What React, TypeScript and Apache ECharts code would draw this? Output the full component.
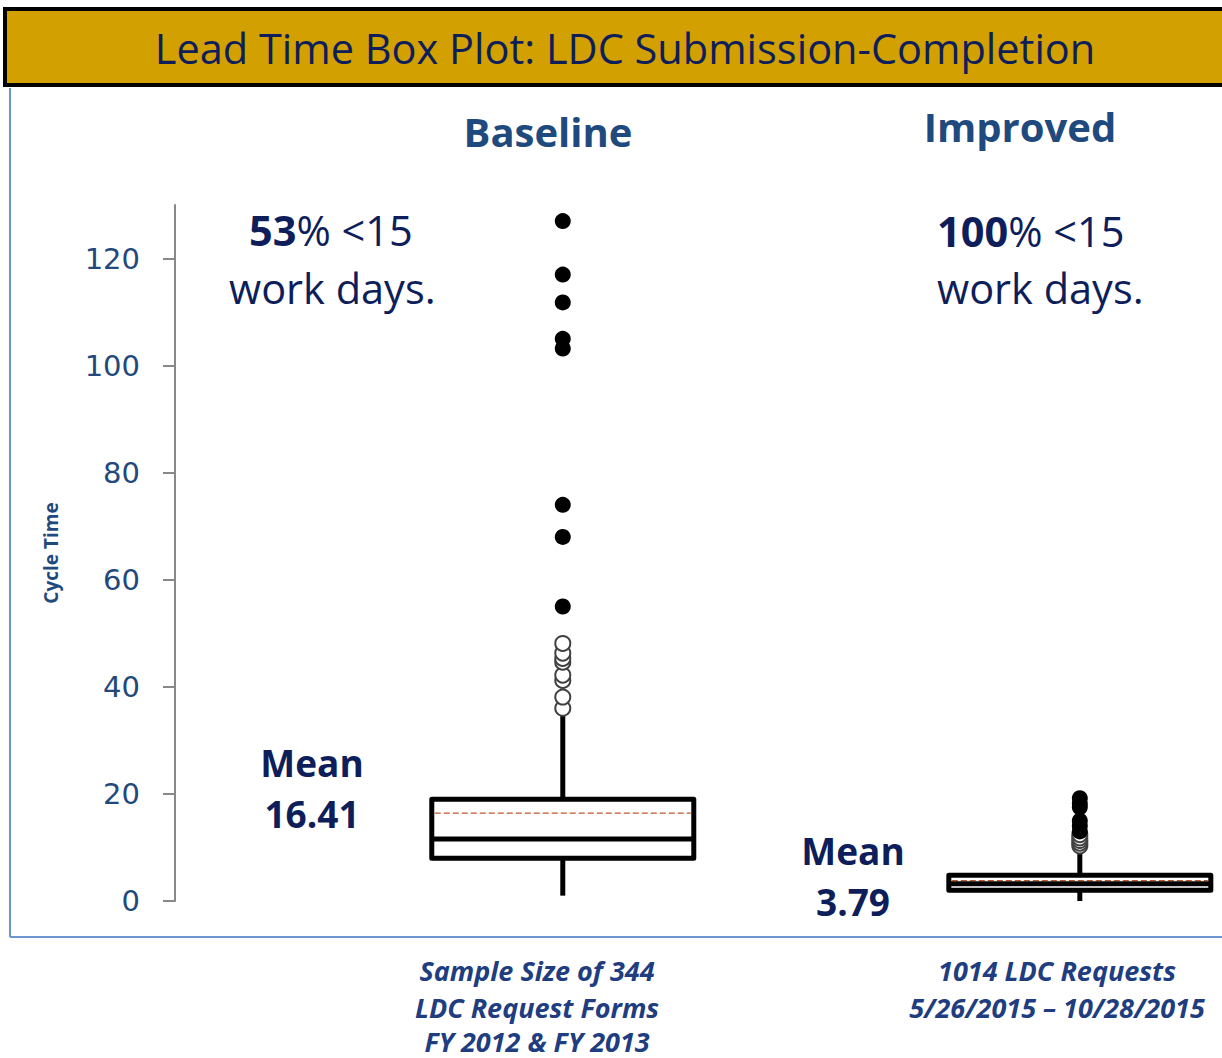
import React, { useEffect, useRef } from "react";
import * as echarts from "echarts";

// ---- data ----
const groupNames = ["Baseline", "Improved"];
const groupPositions = [1, 2];
const lowWhisker = [1, 0];
const q1Values = [8, 2];
const medianValues = [11.6, 3.2];
const q3Values = [19, 4.8];
const highWhisker = [35, 9];
const meanValues = [16.41, 3.79];
const baselineMild = [36, 38.1, 41.2, 42.2, 44.6, 45.3, 46.3, 48.1];
const baselineExtreme = [55, 68, 74, 103.2, 105, 111.8, 117, 127];
const improvedMild = [10.3, 10.8, 11.3, 11.8, 12.4];
const improvedExtreme = [13, 14, 15, 17.5, 18.2, 19.2];
const yTicks = [0, 20, 40, 60, 80, 100, 120];

const NAVY = "#0E1E5B";
const MIDBLUE = "#1F4A7E";
const FONT = "'Open Sans', 'Noto Sans', sans-serif";

export default function App() {
  const ref = useRef<HTMLDivElement>(null);
  useEffect(() => {
    if (!ref.current) return;
    const chart = echarts.init(ref.current, null, { renderer: "svg" });
    const boxData = groupPositions.map((x, i) => [
      x,
      lowWhisker[i],
      q1Values[i],
      medianValues[i],
      q3Values[i],
      highWhisker[i],
      meanValues[i],
    ]);
    const boxWidth = 262;
    const renderItem = (params: any, api: any) => {
      const x = api.value(0);
      const pLow = api.coord([x, api.value(1)]);
      const pQ1 = api.coord([x, api.value(2)]);
      const pMed = api.coord([x, api.value(3)]);
      const pQ3 = api.coord([x, api.value(4)]);
      const pHigh = api.coord([x, api.value(5)]);
      const pMean = api.coord([x, api.value(6)]);
      const cx = pMed[0];
      const l = cx - boxWidth / 2;
      const r = cx + boxWidth / 2;
      const stroke = { stroke: "#000", lineWidth: 5, lineCap: "butt" };
      return {
        type: "group",
        children: [
          { type: "line", shape: { x1: cx, y1: pLow[1], x2: cx, y2: pQ1[1] }, style: stroke },
          { type: "line", shape: { x1: cx, y1: pQ3[1], x2: cx, y2: pHigh[1] }, style: stroke },
          {
            type: "rect",
            shape: { x: l, y: pQ3[1], width: boxWidth, height: pQ1[1] - pQ3[1] },
            style: { fill: "#fff", stroke: "#000", lineWidth: 5, lineJoin: "round" },
          },
          {
            type: "line",
            shape: { x1: l + 3, y1: pMean[1], x2: r - 3, y2: pMean[1] },
            style: { stroke: "#C2562A", lineWidth: 1.2, lineDash: [6, 3] },
          },
          { type: "line", shape: { x1: l, y1: pMed[1], x2: r, y2: pMed[1] }, style: stroke },
        ],
      };
    };
    const mildData = [
      ...baselineMild.map((v) => [groupPositions[0], v]),
      ...improvedMild.map((v) => [groupPositions[1], v]),
    ];
    const extremeData = [
      ...baselineExtreme.map((v) => [groupPositions[0], v]),
      ...improvedExtreme.map((v) => [groupPositions[1], v]),
    ];
    const txt = (text: string, x: number, y: number, size: number, fill: string, extra: any = {}) => ({
      type: "text",
      x,
      y,
      style: {
        text,
        fill,
        fontSize: size,
        fontFamily: FONT,
        textAlign: "center",
        textVerticalAlign: "middle",
        ...extra,
      },
    });
    const noteStyle = { fontWeight: "bold", fontStyle: "italic" };
    chart.setOption({
      animation: false,
      backgroundColor: "#fff",
      grid: { left: 175, right: 0, top: 205, bottom: 1058 - 901 },
      xAxis: { type: "value", min: 0.25, max: 2.275, show: false },
      yAxis: {
        type: "value",
        min: 0,
        max: 130,
        interval: 10,
        name: "Cycle Time",
        nameLocation: "middle",
        nameGap: 115,
        nameTextStyle: { fontFamily: FONT, fontWeight: "bold", fontSize: 19, color: MIDBLUE },
        axisLine: { show: true, lineStyle: { color: "#888", width: 2 } },
        axisTick: { show: true, length: 12, customValues: yTicks, lineStyle: { color: "#888", width: 2 } },
        axisLabel: {
          customValues: yTicks,
          margin: 35,
          fontFamily: "'DejaVu Sans', sans-serif",
          fontSize: 29,
          color: "#23497C",
        },
        splitLine: { show: false },
      },
      graphic: [
        {
          type: "rect",
          shape: { x: 5, y: 9, width: 1240, height: 76 },
          style: { fill: "#D2A000", stroke: "#000", lineWidth: 4 },
        },
        txt("Lead Time Box Plot: LDC Submission-Completion", 625, 48, 41.5, NAVY),
        { type: "line", shape: { x1: 10, y1: 88, x2: 10, y2: 937 }, style: { stroke: "#6E95CF", lineWidth: 2 } },
        { type: "line", shape: { x1: 10, y1: 937, x2: 1222, y2: 937 }, style: { stroke: "#6E95CF", lineWidth: 2 } },
        txt(groupNames[0], 548, 131, 40, MIDBLUE, { fontWeight: "bold" }),
        txt(groupNames[1], 1020, 126, 40, MIDBLUE, { fontWeight: "bold" }),
        txt("{b|53}% <15", 249, 230, 41.5, NAVY, {
          textAlign: "left",
          rich: { b: { fontWeight: "bold", fontSize: 41.5, fontFamily: FONT, fill: NAVY } },
        }),
        txt("work days.", 229, 288, 41.5, NAVY, { textAlign: "left" }),
        txt("{b|100}% <15", 937, 231, 41.5, NAVY, {
          textAlign: "left",
          rich: { b: { fontWeight: "bold", fontSize: 41.5, fontFamily: FONT, fill: NAVY } },
        }),
        txt("work days.", 937, 288, 41.5, NAVY, { textAlign: "left" }),
        txt("Mean", 312, 762, 37, NAVY, { fontWeight: "bold" }),
        txt(meanValues[0].toFixed(2), 312, 813, 37, NAVY, { fontWeight: "bold" }),
        txt("Mean", 853, 850, 37, NAVY, { fontWeight: "bold" }),
        txt(meanValues[1].toFixed(2), 853, 901, 37, NAVY, { fontWeight: "bold" }),
        txt("Sample Size of 344", 537, 970, 27, "#203D80", noteStyle),
        txt("LDC Request Forms", 537, 1007, 27, "#203D80", noteStyle),
        txt("FY 2012 & FY 2013", 537, 1041, 27, "#203D80", noteStyle),
        txt("1014 LDC Requests", 1057, 970, 27, "#203D80", noteStyle),
        txt("5/26/2015 \u2013 10/28/2015", 1057, 1007, 27, "#203D80", noteStyle),
      ],
      series: [
        {
          type: "custom",
          renderItem,
          data: boxData,
          encode: { x: 0, y: [1, 2, 3, 4, 5] },
          z: 2,
        },
        {
          type: "scatter",
          data: mildData,
          symbol: "emptyCircle",
          symbolSize: 15,
          itemStyle: { color: "#404040", borderColor: "#404040", borderWidth: 1.5, opacity: 1 },
          z: 3,
        },
        {
          type: "scatter",
          data: extremeData,
          symbol: "circle",
          symbolSize: 16,
          itemStyle: { color: "#000", opacity: 1 },
          z: 4,
        },
      ],
    });
    return () => chart.dispose();
  }, []);
  return (
    <div
      ref={ref}
      style={{ position: "fixed", left: 0, top: 0, width: 1222, height: 1058 }}
    />
  );
}
